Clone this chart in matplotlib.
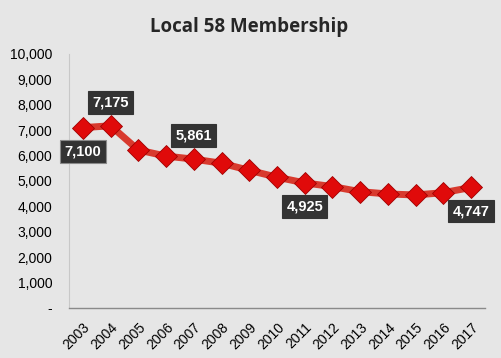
import matplotlib
matplotlib.use("Agg")
import matplotlib.pyplot as plt
import matplotlib.ticker as mticker

years = ["2003", "2004", "2005", "2006", "2007", "2008", "2009", "2010",
         "2011", "2012", "2013", "2014", "2015", "2016", "2017"]
members = [7100, 7175, 6220, 5980, 5861, 5700, 5420, 5150,
           4925, 4780, 4580, 4490, 4450, 4540, 4747]
# which points carry a value box, and where the box sits (dx, dy in points)
labelled = {0: (0, -17), 1: (0, 17), 4: (0, 17), 8: (0, -17), 14: (0, -17)}

bg = "#e6e6e6"
plt.rcParams["font.family"] = ["Liberation Sans", "DejaVu Sans"]

fig = plt.figure(figsize=(5.01, 3.58), dpi=100, facecolor=bg)
ax = fig.add_axes([69/501, 1-308/358, (485-69)/501, (308-54)/358])
ax.set_facecolor(bg)

x = list(range(len(years)))
ax.plot(x, members, color="#d83a2e", lw=5, solid_capstyle="round", zorder=2)
ax.plot(x, members, ls="none", marker="D", ms=11, mfc="#e00a0a",
        mec="#a00000", mew=0.6, zorder=3)

for i, (dx, dy) in labelled.items():
    ec = "#8a8a8a" if i == 0 else "#333333"
    ax.annotate(f"{members[i]:,}", (i, members[i]), xytext=(dx, dy),
                textcoords="offset points", ha="center", va="center",
                color="white", fontsize=10.5, fontweight="bold",
                bbox=dict(boxstyle="square,pad=0.3", fc="#333333", ec=ec, lw=0.8),
                zorder=4)

ax.set_xlim(-0.5, len(years) - 0.5)
ax.set_ylim(0, 10000)
ax.set_xticks(x)
ax.set_xticklabels(years, rotation=45, ha="right", rotation_mode="anchor",
                   fontsize=10)
ax.set_yticks(range(0, 10001, 1000))
ax.yaxis.set_major_formatter(mticker.FuncFormatter(
    lambda v, p: "-" if v == 0 else f"{int(v):,}"))
ax.tick_params(axis="y", length=0, pad=12, labelsize=10)
ax.tick_params(axis="x", length=0, pad=9)

for s in ["top", "right"]:
    ax.spines[s].set_visible(False)
ax.spines["left"].set_color("#c8c8c8")
ax.spines["left"].set_linewidth(0.8)
ax.spines["bottom"].set_color("#8a8a8a")
ax.spines["bottom"].set_linewidth(1.0)

fig.text(249/501, 1-27/358, "Local 58 Membership", ha="center", va="center",
         fontsize=13.5, fontweight="bold", color="#262626",
         family=["Open Sans", "DejaVu Sans"])

fig.savefig("out.png", dpi=100, facecolor=bg)
